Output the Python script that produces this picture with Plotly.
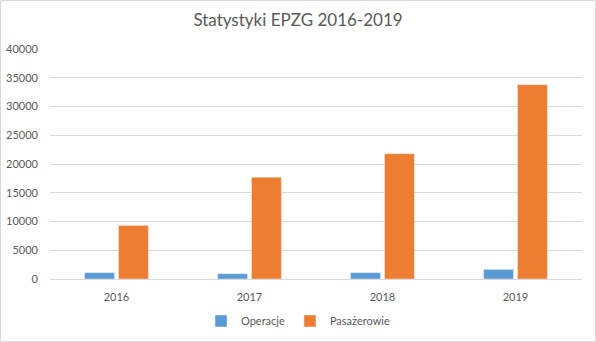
import plotly.graph_objects as go

years = ["2016", "2017", "2018", "2019"]
operacje = [1100, 920, 1100, 1670]
pasazerowie = [9300, 17700, 21800, 33800]
y_ticks = [0, 5000, 10000, 15000, 20000, 25000, 30000, 35000, 40000]

W, H = 596, 342
L, R, T, B = 50, 14, 49, 63
pw, ph = W - L - R, H - T - B

fig = go.Figure()
fig.add_trace(go.Bar(name="Operacje", x=years, y=operacje, marker_color="#5b9bd5"))
fig.add_trace(go.Bar(name="Pasażerowie", x=years, y=pasazerowie, marker_color="#ed7d31"))

font = "Lato, 'Open Sans', sans-serif"
fig.update_layout(
    width=W, height=H,
    margin=dict(l=L, r=R, t=T, b=B, autoexpand=False),
    paper_bgcolor="white", plot_bgcolor="white",
    barmode="group", bargap=0.49, bargroupgap=0.12,
    title=dict(text="Statystyki EPZG 2016-2019", x=0.5, xanchor="center",
               xref="container", yref="container",
               y=1 - 20 / H, yanchor="middle",
               font=dict(family=font, size=17, color="#595959")),
    font=dict(family=font, size=11, color="#595959"),
    xaxis=dict(showgrid=False, showline=True, linecolor="#d9d9d9", linewidth=1,
               ticks="", ticklabelstandoff=8,
               tickfont=dict(size=11, color="#595959")),
    yaxis=dict(range=[0, 40000], tickvals=y_ticks, tickformat="d",
               showgrid=True, gridcolor="#d9d9d9", gridwidth=1, zeroline=False,
               showline=False, ticks="", ticklabelstandoff=11,
               tickfont=dict(size=11, color="#595959")),
    legend=dict(orientation="h", x=0.5, xanchor="center", xref="container",
                yref="container", y=1 - 321 / H, yanchor="middle",
                font=dict(size=11, color="#595959"),
                itemwidth=30, traceorder="normal"),
    shapes=[dict(type="rect", xref="paper", yref="paper",
                 x0=-(L - 0.5) / pw, x1=(W - L - 0.5) / pw,
                 y0=-(B - 0.5) / ph, y1=(ph + T - 0.5) / ph,
                 line=dict(color="#d9d9d9", width=1), layer="below")],
)

fig.write_html("out.html")
